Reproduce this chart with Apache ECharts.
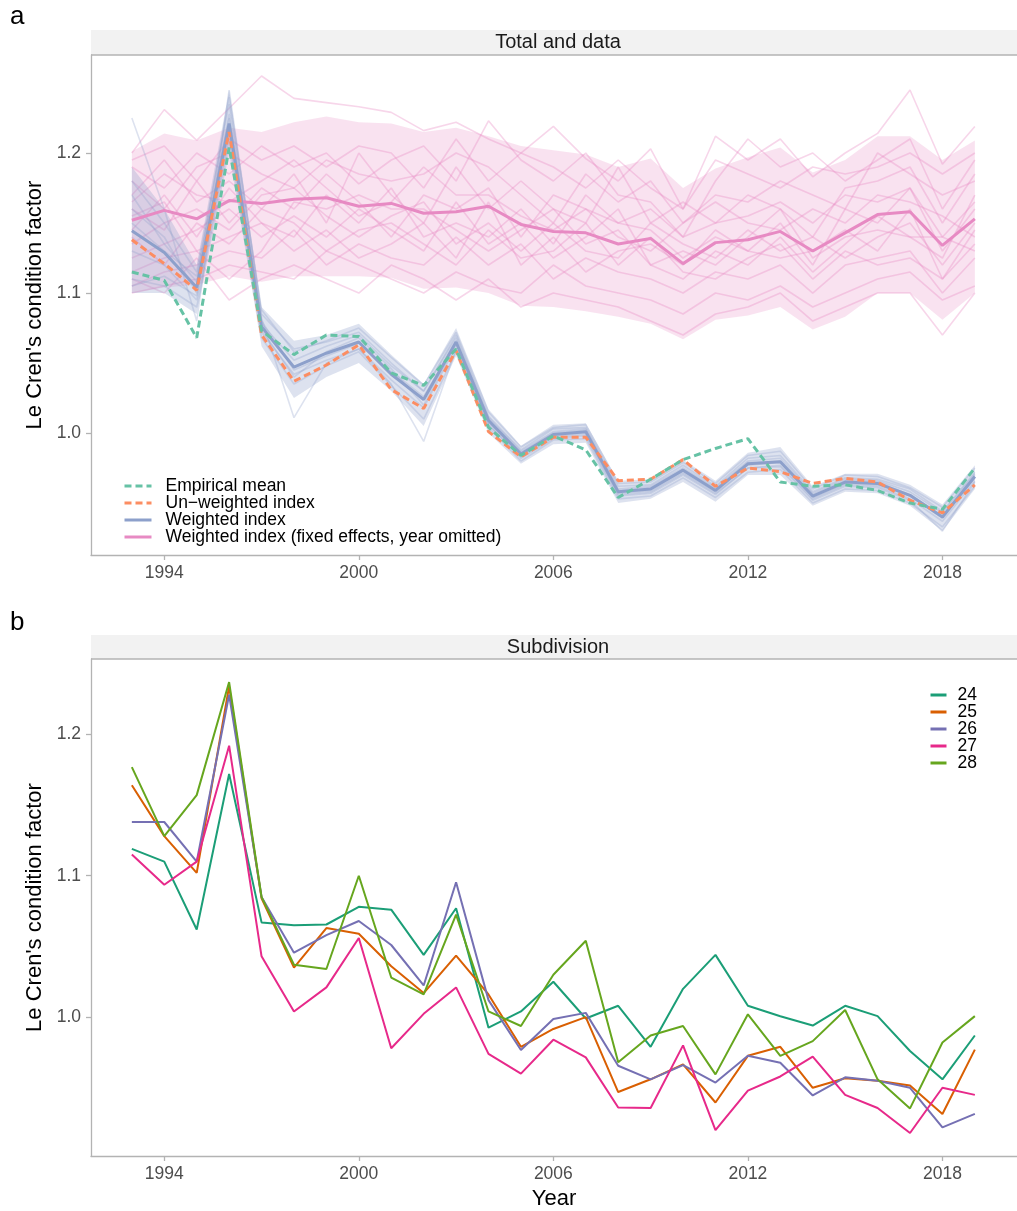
<!DOCTYPE html>
<html>
<head>
<meta charset="utf-8">
<script src="https://cdn.jsdelivr.net/npm/echarts@6/dist/echarts.min.js"></script>
<style>html,body{margin:0;padding:0;background:#fff}#c{width:1017px;height:1211px}</style>
</head>
<body>
<div id="c"></div>
<script>
const years = [1993,1994,1995,1996,1997,1998,1999,2000,2001,2002,2003,2004,2005,2006,2007,2008,2009,2010,2011,2012,2013,2014,2015,2016,2017,2018,2019];
const xTicks = [1994,2000,2006,2012,2018];
const yTicks = [1.0,1.1,1.2];

// Panel a: main indices
const empiricalMean = [1.115,1.109,1.068,1.204,1.073,1.056,1.070,1.069,1.043,1.034,1.060,1.004,0.984,0.998,0.988,0.954,0.967,0.981,0.989,0.996,0.965,0.962,0.963,0.959,0.950,0.9455,0.975];
const unweightedIndex = [1.138,1.121,1.102,1.215,1.070,1.037,1.0486,1.063,1.031,1.0176,1.059,1.001,0.983,0.997,0.997,0.966,0.967,0.981,0.962,0.975,0.9724,0.964,0.9676,0.965,0.952,0.943,0.963];
const weightedIndex = [1.1445,1.129,1.104,1.221,1.076,1.047,1.057,1.065,1.042,1.024,1.065,1.009,0.985,0.999,1.001,0.958,0.960,0.9735,0.959,0.978,0.9795,0.955,0.965,0.964,0.9555,0.940,0.969];
const weightedLo = [1.10,1.10,1.085,1.20,1.062,1.025,1.04,1.05,1.03,1.005,1.055,1.0,0.978,0.992,0.993,0.95,0.953,0.965,0.951,0.97,0.97,0.948,0.958,0.957,0.948,0.93,0.96];
const weightedHi = [1.19,1.16,1.12,1.245,1.09,1.066,1.07,1.078,1.056,1.035,1.075,1.017,0.991,1.006,1.007,0.966,0.967,0.981,0.966,0.986,0.99,0.962,0.971,0.971,0.963,0.949,0.977];
const fixedIndex = [1.152,1.159,1.153,1.166,1.164,1.167,1.168,1.162,1.164,1.157,1.158,1.162,1.149,1.144,1.143,1.135,1.139,1.121,1.136,1.138,1.144,1.130,1.143,1.156,1.158,1.134,1.153];
const fixedLo = [1.100,1.104,1.106,1.112,1.108,1.112,1.112,1.112,1.111,1.103,1.104,1.100,1.091,1.090,1.087,1.083,1.078,1.067,1.081,1.084,1.090,1.074,1.083,1.100,1.100,1.081,1.100];
const fixedHi = [1.201,1.214,1.209,1.218,1.215,1.222,1.226,1.222,1.221,1.215,1.218,1.212,1.205,1.202,1.199,1.190,1.196,1.175,1.189,1.197,1.204,1.186,1.195,1.212,1.212,1.195,1.209];

// Panel a: thin data lines
const pinkLine1 = [1.200,1.231,1.209,1.232,1.255,1.239,1.236,1.233,1.229,1.216,1.222,1.210,1.200,1.219,1.196,1.180,1.203,1.160,1.212,1.195,1.210,1.183,1.200,1.214,1.245,1.192,1.219];
const pinkLine2 = [1.190,1.175,1.200,1.185,1.205,1.190,1.200,1.178,1.195,1.205,1.180,1.223,1.195,1.180,1.200,1.170,1.165,1.140,1.180,1.210,1.190,1.200,1.180,1.195,1.210,1.160,1.195];
const pinkLine3 = [1.170,1.195,1.165,1.180,1.160,1.185,1.150,1.200,1.170,1.150,1.190,1.160,1.180,1.160,1.150,1.190,1.150,1.165,1.150,1.170,1.160,1.140,1.175,1.180,1.190,1.150,1.185];
const pinkLine4 = [1.160,1.145,1.180,1.150,1.175,1.160,1.185,1.165,1.140,1.170,1.160,1.175,1.140,1.170,1.160,1.140,1.130,1.150,1.165,1.150,1.145,1.160,1.150,1.170,1.165,1.155,1.140];
const pinkLine5 = [1.145,1.170,1.140,1.175,1.150,1.140,1.170,1.150,1.175,1.140,1.150,1.140,1.160,1.135,1.170,1.150,1.145,1.125,1.140,1.130,1.150,1.120,1.160,1.150,1.175,1.130,1.160];
const pinkLine6 = [1.135,1.150,1.160,1.145,1.170,1.175,1.155,1.140,1.155,1.165,1.135,1.150,1.130,1.150,1.130,1.125,1.150,1.135,1.125,1.145,1.130,1.140,1.125,1.140,1.150,1.120,1.150];
const pinkLine7 = [1.125,1.135,1.145,1.160,1.140,1.155,1.140,1.160,1.145,1.130,1.165,1.135,1.150,1.125,1.140,1.160,1.120,1.110,1.130,1.120,1.140,1.115,1.135,1.155,1.140,1.140,1.130];
const pinkLine8 = [1.115,1.125,1.130,1.140,1.150,1.130,1.145,1.125,1.135,1.150,1.125,1.165,1.120,1.140,1.115,1.130,1.135,1.120,1.145,1.130,1.125,1.130,1.145,1.130,1.160,1.110,1.145];
const pinkLine9 = [1.105,1.115,1.120,1.130,1.125,1.145,1.120,1.135,1.125,1.120,1.140,1.120,1.135,1.110,1.125,1.115,1.110,1.100,1.115,1.110,1.120,1.100,1.120,1.125,1.130,1.100,1.125];
const pinkLine10 = [1.100,1.105,1.110,1.120,1.115,1.110,1.130,1.120,1.110,1.100,1.115,1.105,1.100,1.120,1.105,1.100,1.095,1.085,1.100,1.095,1.105,1.090,1.100,1.110,1.115,1.095,1.105];
const pinkLine11 = [1.180,1.160,1.190,1.200,1.185,1.175,1.195,1.185,1.180,1.185,1.200,1.190,1.170,1.150,1.185,1.165,1.180,1.150,1.170,1.165,1.180,1.170,1.160,1.200,1.185,1.170,1.180];
const pinkLine12 = [1.155,1.165,1.130,1.110,1.130,1.165,1.160,1.170,1.160,1.160,1.145,1.130,1.145,1.160,1.135,1.145,1.120,1.130,1.120,1.140,1.160,1.125,1.140,1.145,1.140,1.125,1.170];
const pinkLine13 = [1.140,1.120,1.150,1.135,1.160,1.150,1.130,1.145,1.150,1.135,1.120,1.145,1.125,1.130,1.150,1.120,1.140,1.115,1.110,1.125,1.135,1.110,1.130,1.120,1.125,1.110,1.135];
const pinkLine14 = [1.110,1.100,1.125,1.095,1.110,1.120,1.110,1.100,1.120,1.110,1.095,1.110,1.090,1.100,1.095,1.090,1.080,1.070,1.085,1.090,1.100,1.080,1.090,1.100,1.100,1.070,1.100];
const pinkLine15 = [1.195,1.205,1.180,1.210,1.195,1.205,1.190,1.205,1.200,1.175,1.210,1.180,1.200,1.190,1.175,1.195,1.175,1.160,1.195,1.185,1.175,1.190,1.185,1.190,1.200,1.185,1.200];
const pinkLine16 = [1.165,1.185,1.170,1.165,1.180,1.195,1.175,1.155,1.165,1.190,1.170,1.170,1.155,1.145,1.160,1.150,1.160,1.140,1.150,1.155,1.165,1.150,1.170,1.165,1.175,1.140,1.165];

const blueLine1 = [1.225,1.160,1.080,1.245,1.085,1.060,1.065,1.072,1.050,1.030,1.070,1.012,0.988,1.003,1.004,0.962,0.963,0.977,0.962,0.982,0.984,0.958,0.968,0.967,0.960,0.944,0.972];
const blueLine2 = [1.180,1.150,1.115,1.235,1.082,1.011,1.050,1.060,1.035,0.994,1.060,1.006,0.982,0.996,0.998,0.955,0.957,0.970,0.956,0.975,0.976,0.952,0.962,0.961,0.952,0.930,0.965];
const blueLine3 = [1.160,1.140,1.100,1.228,1.078,1.052,1.062,1.070,1.048,1.030,1.068,1.011,0.987,1.001,1.003,0.960,0.962,0.975,0.961,0.980,0.982,0.957,0.967,0.966,0.958,0.943,0.971];
const blueLine4 = [1.130,1.120,1.095,1.215,1.072,1.042,1.052,1.060,1.038,1.018,1.062,1.006,0.983,0.997,0.999,0.956,0.958,0.971,0.957,0.975,0.977,0.953,0.963,0.962,0.953,0.937,0.966];
const blueLine5 = [1.110,1.105,1.090,1.210,1.068,1.035,1.048,1.058,1.034,1.010,1.058,1.004,0.980,0.995,0.996,0.953,0.955,0.968,0.954,0.972,0.974,0.950,0.960,0.959,0.950,0.933,0.962];
const blueLine6 = [1.170,1.135,1.108,1.240,1.088,1.058,1.066,1.075,1.054,1.034,1.072,1.015,0.990,1.004,1.006,0.964,0.965,0.979,0.964,0.984,0.987,0.960,0.970,0.969,0.961,0.947,0.975];
const blueLine7 = [1.150,1.130,1.112,1.225,1.080,1.045,1.055,1.064,1.044,1.026,1.066,1.010,0.986,1.000,1.002,0.959,0.961,0.974,0.960,0.979,0.980,0.956,0.966,0.965,0.956,0.941,0.970];
const blueLine8 = [1.105,1.112,1.098,1.218,1.074,1.040,1.058,1.068,1.046,1.020,1.064,1.008,0.984,0.998,1.000,0.957,0.959,0.972,0.958,0.977,0.979,0.954,0.964,0.963,0.955,0.939,0.968];

// Panel b: subdivisions
const subdivisionNames = ['24','25','26','27','28'];
const sub24 = [1.119,1.110,1.062,1.172,1.067,1.065,1.0655,1.078,1.076,1.044,1.077,0.9925,1.004,1.025,0.999,1.008,0.979,1.020,1.044,1.008,1.0006,0.994,1.008,1.0007,0.976,0.956,0.987];
const sub25 = [1.164,1.128,1.102,1.234,1.084,1.035,1.063,1.059,1.036,1.017,1.0435,1.016,0.979,0.9916,1.000,0.947,0.956,0.9666,0.9396,0.9726,0.979,0.950,0.9567,0.955,0.9516,0.9315,0.977];
const sub26 = [1.138,1.138,1.110,1.228,1.085,1.0456,1.058,1.068,1.051,1.0224,1.0954,1.012,0.9767,0.9986,1.003,0.9656,0.956,0.966,0.9537,0.9726,0.9677,0.9446,0.9574,0.955,0.950,0.922,0.9315];
const sub27 = [1.115,1.0936,1.110,1.192,1.043,1.004,1.021,1.056,0.978,1.0023,1.021,0.974,0.960,0.984,0.9715,0.936,0.9357,0.980,0.920,0.948,0.958,0.972,0.945,0.9357,0.918,0.950,0.945];
const sub28 = [1.1768,1.128,1.157,1.237,1.085,1.037,1.034,1.100,1.028,1.016,1.0725,1.004,0.9937,1.030,1.054,0.968,0.987,0.9937,0.9595,1.002,0.9726,0.983,1.005,0.956,0.9354,0.982,1.0007];

const FONT = 'Liberation Sans, Arial, Helvetica, sans-serif';
const COL = {green:'#66c2a5', orange:'#fc8d62', blue:'#8da0cb', pink:'#e78ac3'};
const SUBCOL = ['#1b9e77','#d95f02','#7570b3','#e7298a','#66a61e'];

const pairs = arr => years.map((y,i)=>[y,arr[i]]);

function ribbon(name, lo, hi, color, opacity, xi, z){
  return {
    type:'custom', name:name, xAxisIndex:xi, yAxisIndex:xi, silent:true, z:z,
    data: years.map((y,i)=>[y,lo[i],hi[i]]),
    encode:{x:0, y:[1,2]},
    renderItem:function(params, api){
      if(params.dataIndex!==0) return null;
      const pts=[];
      for(let i=0;i<years.length;i++) pts.push(api.coord([years[i],hi[i]]));
      for(let i=years.length-1;i>=0;i--) pts.push(api.coord([years[i],lo[i]]));
      return {type:'polygon', shape:{points:pts}, style:{fill:color, opacity:opacity}};
    }
  };
}
function thin(arr, color, opacity, z){
  return {type:'line', data:pairs(arr), xAxisIndex:0, yAxisIndex:0, symbol:'none', silent:true, z:z,
    lineStyle:{color:color, width:1.6, opacity:opacity}, emphasis:{disabled:true}};
}

const pinkLines=[pinkLine1,pinkLine2,pinkLine3,pinkLine4,pinkLine5,pinkLine6,pinkLine7,pinkLine8,pinkLine9,pinkLine10,pinkLine11,pinkLine12,pinkLine13,pinkLine14,pinkLine15,pinkLine16];
const blueLines=[blueLine1,blueLine2,blueLine3,blueLine4,blueLine5,blueLine6,blueLine7,blueLine8];
const subs=[sub24,sub25,sub26,sub27,sub28];

const series=[];
series.push(ribbon('fixedBand', fixedLo, fixedHi, COL.pink, 0.25, 0, 1));
pinkLines.forEach(a=>series.push(thin(a, COL.pink, 0.35, 2)));
series.push(ribbon('weightedBand', weightedLo, weightedHi, COL.blue, 0.3, 0, 3));
blueLines.forEach(a=>series.push(thin(a, COL.blue, 0.3, 4)));
series.push({type:'line', name:'Weighted index (fixed effects, year omitted)', data:pairs(fixedIndex), xAxisIndex:0, yAxisIndex:0, symbol:'none', z:5, color:COL.pink, lineStyle:{color:COL.pink, width:3}});
series.push({type:'line', name:'Weighted index', data:pairs(weightedIndex), xAxisIndex:0, yAxisIndex:0, symbol:'none', z:5, color:COL.blue, lineStyle:{color:COL.blue, width:3}});
series.push({type:'line', name:'Un\u2212weighted index', data:pairs(unweightedIndex), xAxisIndex:0, yAxisIndex:0, symbol:'none', z:6, color:COL.orange, lineStyle:{color:COL.orange, width:3, type:[7,4]}});
series.push({type:'line', name:'Empirical mean', data:pairs(empiricalMean), xAxisIndex:0, yAxisIndex:0, symbol:'none', z:6, color:COL.green, lineStyle:{color:COL.green, width:3, type:[7,4]}});
subs.forEach((a,i)=>series.push({type:'line', name:subdivisionNames[i], data:pairs(a), xAxisIndex:1, yAxisIndex:1, symbol:'none', z:5, color:SUBCOL[i], lineStyle:{color:SUBCOL[i], width:2}}));

function xAx(gi){
  return {type:'value', gridIndex:gi, min:1991.74, max:2020.3,
    axisLine:{show:true, lineStyle:{color:'#b3b3b3', width:1.3}},
    axisTick:{show:true, customValues:xTicks, length:5, lineStyle:{color:'#b3b3b3', width:1.3}},
    axisLabel:{customValues:xTicks, color:'#4d4d4d', fontSize:17.5, fontFamily:FONT, margin:9, formatter:v=>String(Math.round(v))},
    splitLine:{show:false},
    name: gi===1?'Year':'', nameLocation:'middle', nameGap:32,
    nameTextStyle:{color:'#000', fontSize:22, fontFamily:FONT}};
}
function yAx(gi, mn, mx){
  return {type:'value', gridIndex:gi, min:mn, max:mx,
    axisLine:{show:true, lineStyle:{color:'#b3b3b3', width:1.3}},
    axisTick:{show:true, customValues:yTicks, length:5, lineStyle:{color:'#b3b3b3', width:1.3}},
    axisLabel:{customValues:yTicks, color:'#4d4d4d', fontSize:17.5, fontFamily:FONT, margin:10, formatter:v=>v.toFixed(1)},
    splitLine:{show:false},
    name:"Le Cren's condition factor", nameLocation:'middle', nameGap:39,
    nameTextStyle:{color:'#000', fontSize:22, fontFamily:FONT}};
}

const option={
  animation:false,
  backgroundColor:'#fff',
  grid:[{left:91, top:55, width:935, height:500},{left:91, top:659, width:935, height:501}],
  xAxis:[xAx(0), xAx(1)],
  yAxis:[yAx(0,0.9129,1.27), yAx(1,0.90175,1.2533)],
  legend:[
    {orient:'vertical', left:123, top:477, padding:0, itemWidth:27, itemHeight:14, itemGap:-1,
     itemStyle:{opacity:0}, lineStyle:{width:3},
     data:['Empirical mean','Un\u2212weighted index','Weighted index','Weighted index (fixed effects, year omitted)'],
     textStyle:{color:'#000', fontSize:17.5, fontFamily:FONT, lineHeight:16, padding:[0,0,0,9]}, selectedMode:false},
    {orient:'vertical', left:929, top:686, padding:0, itemWidth:16, itemHeight:14, itemGap:-1,
     itemStyle:{opacity:0}, lineStyle:{width:3},
     data:subdivisionNames,
     textStyle:{color:'#000', fontSize:17.5, fontFamily:FONT, lineHeight:16, padding:[0,0,0,6]}, selectedMode:false}
  ],
  graphic:[
    {type:'text', left:10, top:4, style:{text:'a', fontSize:26, fontFamily:FONT, fill:'#000'}},
    {type:'text', left:10, top:610, style:{text:'b', fontSize:26, fontFamily:FONT, fill:'#000'}},
    {type:'rect', shape:{x:91, y:30, width:926, height:25}, style:{fill:'#f2f2f2'}, z:-1},
    {type:'line', shape:{x1:91, y1:55, x2:1017, y2:55}, style:{stroke:'#b3b3b3', lineWidth:1.3}},
    {type:'text', x:558, y:42.5, style:{text:'Total and data', fontSize:20, fontFamily:FONT, fill:'#1a1a1a', align:'center', verticalAlign:'middle'}},
    {type:'rect', shape:{x:91, y:635, width:926, height:24}, style:{fill:'#f2f2f2'}, z:-1},
    {type:'line', shape:{x1:91, y1:659, x2:1017, y2:659}, style:{stroke:'#b3b3b3', lineWidth:1.3}},
    {type:'text', x:558, y:647, style:{text:'Subdivision', fontSize:20, fontFamily:FONT, fill:'#1a1a1a', align:'center', verticalAlign:'middle'}}
  ],
  series:series
};
const chart=echarts.init(document.getElementById('c'),null,{renderer:'canvas'});
chart.setOption(option);
</script>
</body>
</html>
